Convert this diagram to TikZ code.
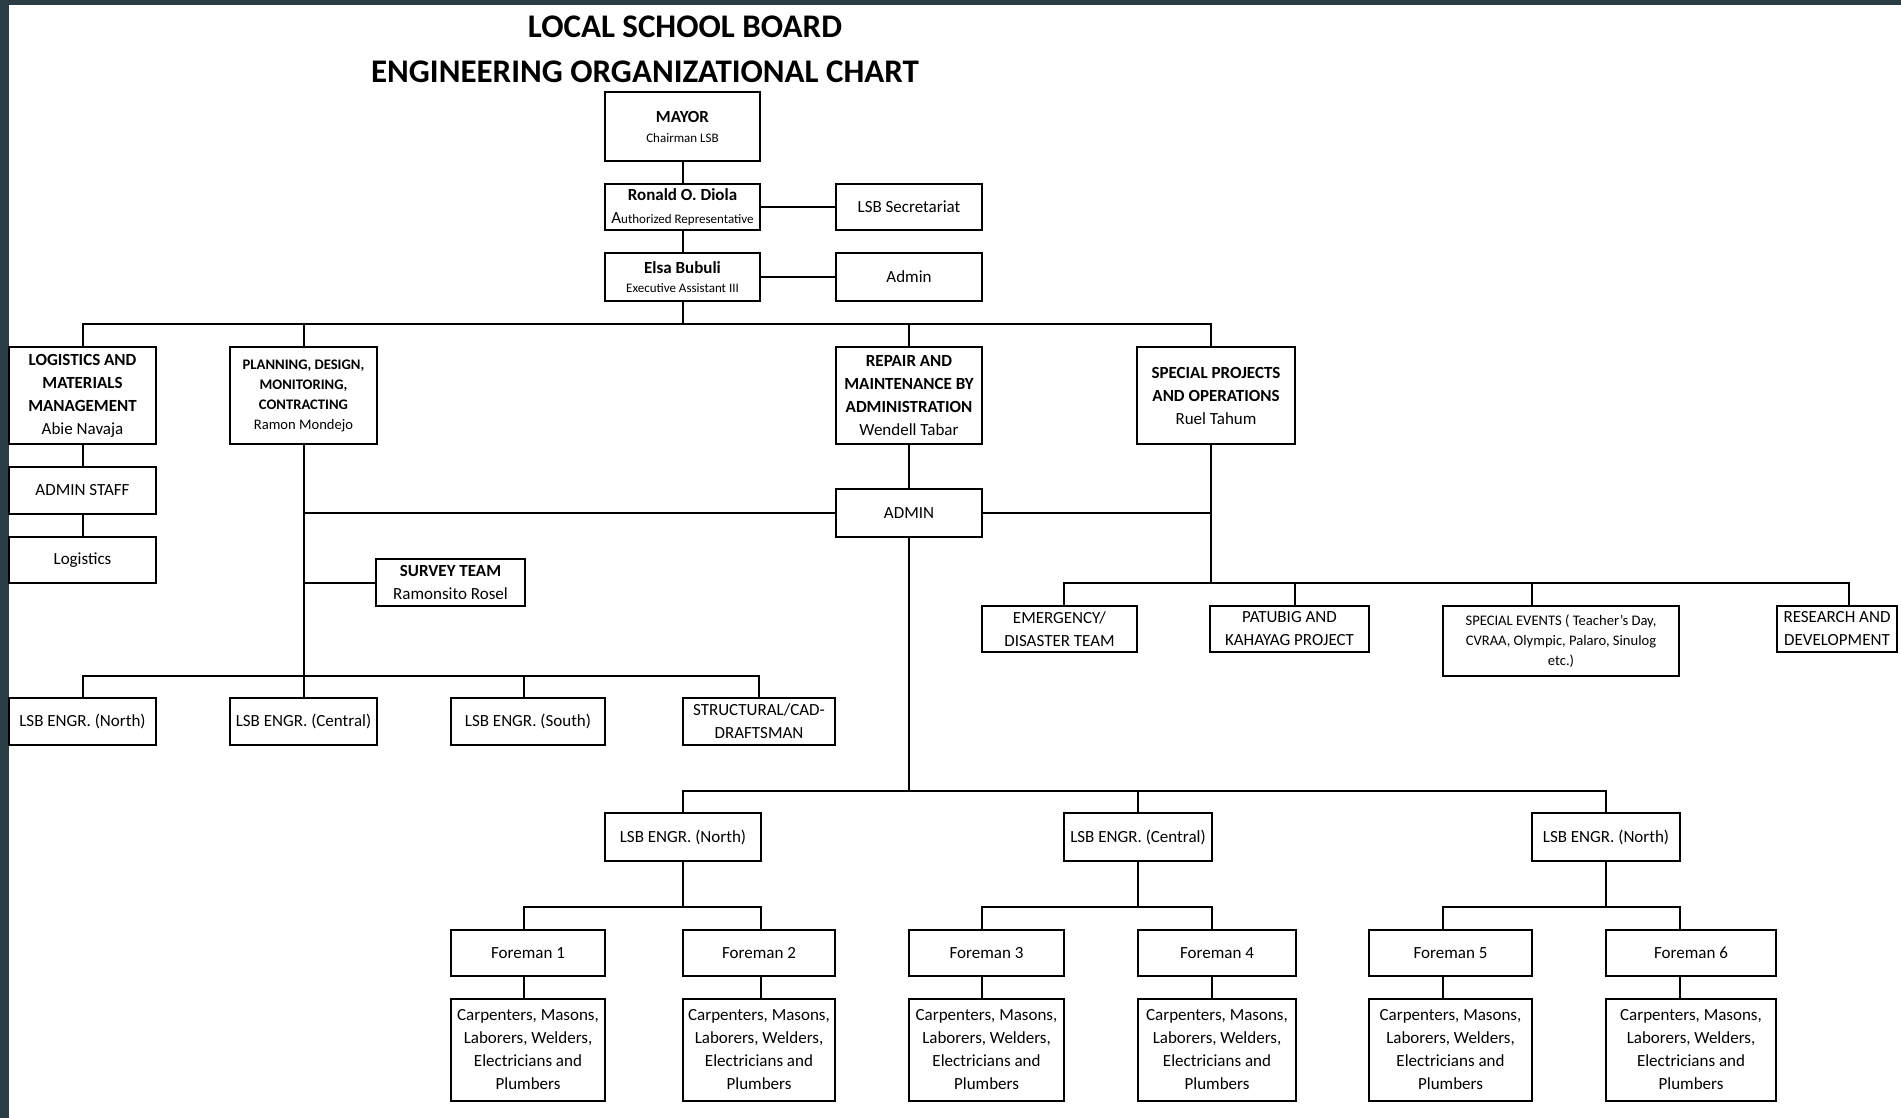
\documentclass[tikz,border=0pt]{standalone}
\usepackage{fontspec}
\setmainfont{Carlito}
\usepackage{xcolor}
\usepackage{tikz}
\usetikzlibrary{positioning, calc}
\definecolor{frameslate}{RGB}{43,60,68}
\newcommand{\smalltxt}{\fontsize{6.5}{8}\selectfont}
\newcommand{\midtxt}{\fontsize{7.3}{10}\selectfont}
% box from its corners (pixel units): name, left, top, right, bottom, text
\newcommand{\orgbox}[7][]{%
  \node[box, #1, minimum width={(#5-#3)*0.5pt}, minimum height={(#6-#4)*0.5pt}]
    (#2) at ({(#3+#5)/2},{(#4+#6)/2}) {#7};}

\begin{document}
\begin{tikzpicture}[x=0.5pt, y=-0.5pt,
  box/.style={draw, line width=0.95pt, inner sep=0pt, align=center,
    font=\fontsize{8.5}{11.5}\selectfont},
  link/.style={line width=1pt},
  chartitle/.style={anchor=base, inner sep=0pt, font=\fontsize{16.5}{20}\selectfont\bfseries}]
\useasboundingbox (0,0) rectangle (1901,1118);
\fill[white] (0,0) rectangle (1901,1118);
\fill[frameslate] (0,0) rectangle (1901,5);
\fill[frameslate] (0,0) rectangle (9,1118);

\node[chartitle] (title1) at (685,38) {LOCAL SCHOOL BOARD};
\node[chartitle] (title2) at (645,83) {ENGINEERING ORGANIZATIONAL CHART};

% top of the chart
\orgbox{mayor}{605}{92}{760}{161}{\textbf{MAYOR}\\[-1.5pt]{\smalltxt Chairman LSB}}
\orgbox{ronald}{605}{184}{760}{230}{\textbf{Ronald O. Diola}\\A{\smalltxt uthorized Representative}}
\orgbox{secr}{836}{184}{982}{230}{LSB Secretariat}
\orgbox{elsa}{605}{253}{760}{301}{\textbf{Elsa Bubuli}\\[-2pt]{\smalltxt Executive Assistant III}}
\orgbox{admintop}{836}{253}{982}{301}{Admin}

% divisions
\orgbox{logi}{9}{347}{156}{444}{\textbf{LOGISTICS AND}\\\textbf{MATERIALS}\\\textbf{MANAGEMENT}\\Abie Navaja}
\orgbox[font=\midtxt]{plan}{230}{347}{377}{444}{\textbf{PLANNING, DESIGN,}\\\textbf{MONITORING,}\\\textbf{CONTRACTING}\\Ramon Mondejo}
\orgbox{repair}{836}{347}{982}{444}{\textbf{REPAIR AND}\\\textbf{MAINTENANCE BY}\\\textbf{ADMINISTRATION}\\Wendell Tabar}
\orgbox{special}{1137}{347}{1295}{444}{\textbf{SPECIAL PROJECTS}\\\textbf{AND OPERATIONS}\\Ruel Tahum}

\orgbox{staff}{9}{467}{156}{514}{ADMIN STAFF}
\orgbox{logist}{9}{537}{156}{583}{Logistics}
\orgbox{adminmid}{836}{489}{982}{537}{ADMIN}
\orgbox{survey}{376}{559}{525}{606}{\textbf{SURVEY TEAM}\\Ramonsito Rosel}

\orgbox{lsbn}{9}{698}{156}{745}{LSB ENGR. (North)}
\orgbox{lsbc}{230}{698}{377}{745}{LSB ENGR. (Central)}
\orgbox{lsbs}{451}{698}{605}{745}{LSB ENGR. (South)}
\orgbox{struct}{683}{698}{835}{745}{STRUCTURAL/CAD-\\DRAFTSMAN}

\orgbox{emerg}{982}{606}{1137}{652}{EMERGENCY/\\DISASTER TEAM}
\orgbox{patubig}{1210}{606}{1369}{652}{PATUBIG AND\\KAHAYAG PROJECT}
\orgbox[font=\midtxt]{events}{1443}{606}{1679}{676}{SPECIAL EVENTS ( Teacher's Day,\\CVRAA, Olympic, Palaro, Sinulog\\etc.)}
\orgbox{research}{1777}{606}{1897}{652}{RESEARCH AND\\DEVELOPMENT}

% repair and maintenance teams
\orgbox{engn}{605}{813}{761}{861}{LSB ENGR. (North)}
\orgbox{engc}{1064}{813}{1212}{861}{LSB ENGR. (Central)}
\orgbox{engnb}{1532}{813}{1680}{861}{LSB ENGR. (North)}

\orgbox{fm1}{451}{930}{605}{976}{Foreman 1}
\orgbox{fm2}{683}{930}{835}{976}{Foreman 2}
\orgbox{fm3}{909}{930}{1064}{976}{Foreman 3}
\orgbox{fm4}{1138}{930}{1296}{976}{Foreman 4}
\orgbox{fm5}{1369}{930}{1532}{976}{Foreman 5}
\orgbox{fm6}{1606}{930}{1776}{976}{Foreman 6}

\orgbox{wk1}{451}{999}{605}{1101}{Carpenters, Masons,\\Laborers, Welders,\\Electricians and\\Plumbers}
\orgbox{wk2}{683}{999}{835}{1101}{Carpenters, Masons,\\Laborers, Welders,\\Electricians and\\Plumbers}
\orgbox{wk3}{909}{999}{1064}{1101}{Carpenters, Masons,\\Laborers, Welders,\\Electricians and\\Plumbers}
\orgbox{wk4}{1138}{999}{1296}{1101}{Carpenters, Masons,\\Laborers, Welders,\\Electricians and\\Plumbers}
\orgbox{wk5}{1369}{999}{1532}{1101}{Carpenters, Masons,\\Laborers, Welders,\\Electricians and\\Plumbers}
\orgbox{wk6}{1606}{999}{1776}{1101}{Carpenters, Masons,\\Laborers, Welders,\\Electricians and\\Plumbers}

% bus lines
\coordinate (busdiv) at (0,324);
\coordinate (busadmin) at (0,513);
\coordinate (busspecial) at (0,583);
\coordinate (busplan) at (0,676);
\coordinate (busrepair) at (0,791);
\coordinate (busforeman) at (0,907);

\draw[link] (mayor) -- (ronald);
\draw[link] (ronald) -- (elsa);
\draw[link] (ronald) -- (secr);
\draw[link] (elsa) -- (admintop);
\draw[link] (elsa.south) -- (elsa.south |- busdiv);
\draw[link] (logi.north) -- (logi.north |- busdiv) -- ([xshift=-2.5pt]special.north |- busdiv) -- ([xshift=-2.5pt]special.north);
\draw[link] (plan.north) -- (plan.north |- busdiv);
\draw[link] (repair.north) -- (repair.north |- busdiv);

\draw[link] (logi) -- (staff);
\draw[link] (staff) -- (logist);
\draw[link] (repair) -- (adminmid);
\draw[link] (plan.south) -- (plan.south |- busplan);
\draw[link] (adminmid.west) -- (adminmid.west -| plan.south);
\draw[link] (survey.west) -- (survey.west -| plan.south);
\draw[link] ([xshift=-2.5pt]special.south) -- ([xshift=-2.5pt]special.south |- busspecial);
\draw[link] (adminmid.east) -- ([xshift=-2.5pt]special.south |- adminmid.east);

\draw[link] (lsbn.north) -- (lsbn.north |- busplan) -- (struct.north |- busplan) -- (struct.north);
\draw[link] (lsbc.north) -- (lsbc.north |- busplan);
\draw[link] ([xshift=-2pt]lsbs.north) -- ([xshift=-2pt]lsbs.north |- busplan);

\draw[link] ([xshift=2.25pt]emerg.north) -- ([xshift=2.25pt]emerg.north |- busspecial) -- ([xshift=6pt]research.north |- busspecial) -- ([xshift=6pt]research.north);
\draw[link] ([xshift=2.75pt]patubig.north) -- ([xshift=2.75pt]patubig.north |- busspecial);
\draw[link] ([xshift=-14.5pt]events.north) -- ([xshift=-14.5pt]events.north |- busspecial);

\draw[link] (adminmid.south) -- (adminmid.south |- busrepair);
\draw[link] (engn.north) -- (engn.north |- busrepair) -- (engnb.north |- busrepair) -- (engnb.north);
\draw[link] (engc.north) -- (engc.north |- busrepair);

\draw[link] (engn.south) -- (engn.south |- busforeman);
\draw[link] (engc.south) -- (engc.south |- busforeman);
\draw[link] (engnb.south) -- (engnb.south |- busforeman);
\draw[link] ([xshift=-2pt]fm1.north) -- ([xshift=-2pt]fm1.north |- busforeman) -- ([xshift=1pt]fm2.north |- busforeman) -- ([xshift=1pt]fm2.north);
\draw[link] ([xshift=-2.25pt]fm3.north) -- ([xshift=-2.25pt]fm3.north |- busforeman) -- ([xshift=-2.5pt]fm4.north |- busforeman) -- ([xshift=-2.5pt]fm4.north);
\draw[link] ([xshift=-3.75pt]fm5.north) -- ([xshift=-3.75pt]fm5.north |- busforeman) -- ([xshift=-5.5pt]fm6.north |- busforeman) -- ([xshift=-5.5pt]fm6.north);
\foreach \i/\s in {1/-2,2/1,3/-2.25,4/-2.5,5/-3.75,6/-5.5}
  \draw[link] ([xshift=\s pt]fm\i.south) -- ([xshift=\s pt]wk\i.north);

\end{tikzpicture}
\end{document}
